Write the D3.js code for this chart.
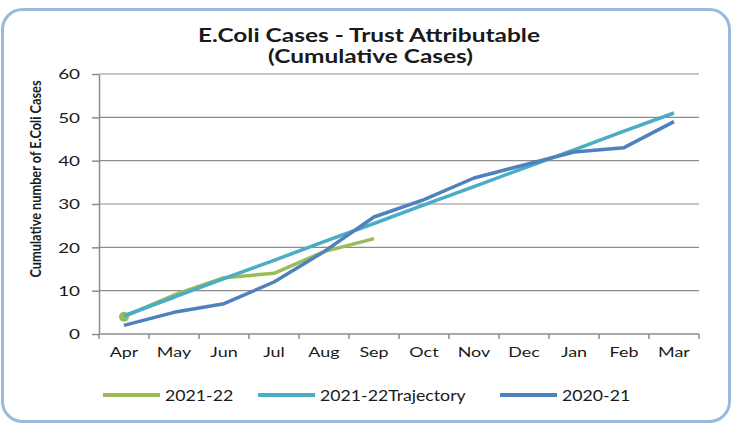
<!DOCTYPE html>
<meta charset="utf-8" />
<title>E.Coli Cases</title>
<style>
  body { margin: 0; background: #fff; }
  text { font-family: Lato, "Open Sans", sans-serif; fill: #1a1a1a; }
  .grid line { stroke: #8c8c8c; stroke-width: 1.2px; }
  .axis path, .axis line { stroke: #8c8c8c; stroke-width: 1.5px; }
  .series { fill: none; stroke-width: 3.5px; stroke-linejoin: round; }
</style>
<body>
<script src="https://cdn.jsdelivr.net/npm/d3@7"></script>
<script>
  var months = ["Apr", "May", "Jun", "Jul", "Aug", "Sep", "Oct", "Nov", "Dec", "Jan", "Feb", "Mar"];
  var cases2122 = [4, 9, 13, 14, 19, 22];
  var trajectory2122 = [4.2, 8.5, 12.8, 17, 21.3, 25.5, 29.8, 34, 38.3, 42.5, 46.8, 51];
  var cases2021 = [2, 5, 7, 12, 19, 27, 31, 36, 39, 42, 43, 49];
  var yTicks = [0, 10, 20, 30, 40, 50, 60];

  var series = [
    { name: "2021-22", values: cases2122, color: "#9bbb59" },
    { name: "2021-22Trajectory", values: trajectory2122, color: "#4bacc6" },
    { name: "2020-21", values: cases2021, color: "#4f81bd" }
  ];

  var width = 732, height = 426;
  var margin = { top: 74, right: 33, bottom: 92, left: 99 };

  // the reference text is drawn wide, so stretch labels along their length
  function stretch(sel, k) {
    sel.each(function () {
      var w = this.getComputedTextLength();
      d3.select(this).attr("textLength", w * k).attr("lengthAdjust", "spacingAndGlyphs");
    });
  }

  var svg = d3.select("body").append("svg")
    .attr("width", width)
    .attr("height", height);

  // rounded frame
  svg.append("rect")
    .attr("x", 2.5).attr("y", 9.5)
    .attr("width", 727).attr("height", 412)
    .attr("rx", 20)
    .attr("fill", "#fff")
    .attr("stroke", "#9bb9dd")
    .attr("stroke-width", 3);

  var x = d3.scaleBand().domain(months).range([margin.left, width - margin.right]);
  var y = d3.scaleLinear().domain([0, 60]).range([height - margin.bottom, margin.top]);

  // title
  svg.append("text")
    .attr("x", 369).attr("y", 42)
    .attr("text-anchor", "middle")
    .attr("textLength", 342).attr("lengthAdjust", "spacingAndGlyphs")
    .style("font-weight", "bold").style("font-size", "19px")
    .text("E.Coli Cases - Trust Attributable");
  svg.append("text")
    .attr("x", 370.5).attr("y", 63)
    .attr("text-anchor", "middle")
    .attr("textLength", 205).attr("lengthAdjust", "spacingAndGlyphs")
    .style("font-weight", "bold").style("font-size", "19px")
    .text("(Cumulative Cases)");

  // gridlines
  svg.append("g").attr("class", "grid")
    .selectAll("line")
    .data(yTicks.slice(1))
    .join("line")
    .attr("x1", margin.left)
    .attr("x2", width - margin.right)
    .attr("y1", function (d) { return y(d); })
    .attr("y2", function (d) { return y(d); });

  // y axis
  var yAxis = svg.append("g").attr("class", "axis")
    .attr("transform", "translate(" + margin.left + ",0)")
    .call(d3.axisLeft(y).tickValues(yTicks).tickSize(7).tickSizeOuter(0).tickPadding(12));
  yAxis.selectAll("text").style("font-size", "13px").attr("dy", "0.36em").call(stretch, 1.45);

  // x axis, ticks at band edges
  var xAxis = svg.append("g").attr("class", "axis")
    .attr("transform", "translate(0," + y(0) + ")");
  xAxis.append("line")
    .attr("x1", margin.left).attr("x2", width - margin.right);
  xAxis.selectAll(".tk")
    .data(months.concat([null]))
    .join("line")
    .attr("class", "tk")
    .attr("x1", function (d, i) { return margin.left + i * x.bandwidth(); })
    .attr("x2", function (d, i) { return margin.left + i * x.bandwidth(); })
    .attr("y1", 0).attr("y2", 5);
  xAxis.selectAll("text")
    .data(months)
    .join("text")
    .attr("x", function (d) { return x(d) + x.bandwidth() / 2; })
    .attr("y", 23)
    .attr("text-anchor", "middle")
    .style("font-size", "14px")
    .text(function (d) { return d; })
    .call(stretch, 1.28);

  // y axis title
  svg.append("text")
    .attr("transform", "translate(41,179) rotate(-90)")
    .attr("text-anchor", "middle")
    .attr("textLength", 197)
    .attr("lengthAdjust", "spacingAndGlyphs")
    .style("font-weight", "bold")
    .style("font-size", "16px")
    .text("Cumulative number of E.Coli Cases");

  // lines
  var line = d3.line()
    .x(function (d, i) { return x(months[i]) + x.bandwidth() / 2; })
    .y(function (d) { return y(d); });

  svg.selectAll(".series")
    .data(series)
    .join("path")
    .attr("class", "series")
    .attr("stroke", function (d) { return d.color; })
    .attr("d", function (d) { return line(d.values); });

  // start marker of 2021-22
  svg.append("circle")
    .attr("cx", x(months[0]) + x.bandwidth() / 2)
    .attr("cy", y(cases2122[0]))
    .attr("r", 5)
    .attr("fill", "#9bbb59");
  svg.append("path")
    .attr("class", "series")
    .attr("stroke", "#4bacc6")
    .attr("d", line(trajectory2122.slice(0, 2)));

  // legend
  var legendX = [103, 258, 500];
  var legend = svg.selectAll(".legend")
    .data(series)
    .join("g")
    .attr("class", "legend")
    .attr("transform", function (d, i) { return "translate(" + legendX[i] + ",395)"; });
  legend.append("line")
    .attr("x1", 0).attr("x2", 57)
    .attr("stroke", function (d) { return d.color; })
    .attr("stroke-width", 4);
  legend.append("text")
    .attr("x", 62).attr("y", 6)
    .style("font-size", "15px")
    .text(function (d) { return d.name; })
    .call(stretch, 1.18);
</script>
</body>
